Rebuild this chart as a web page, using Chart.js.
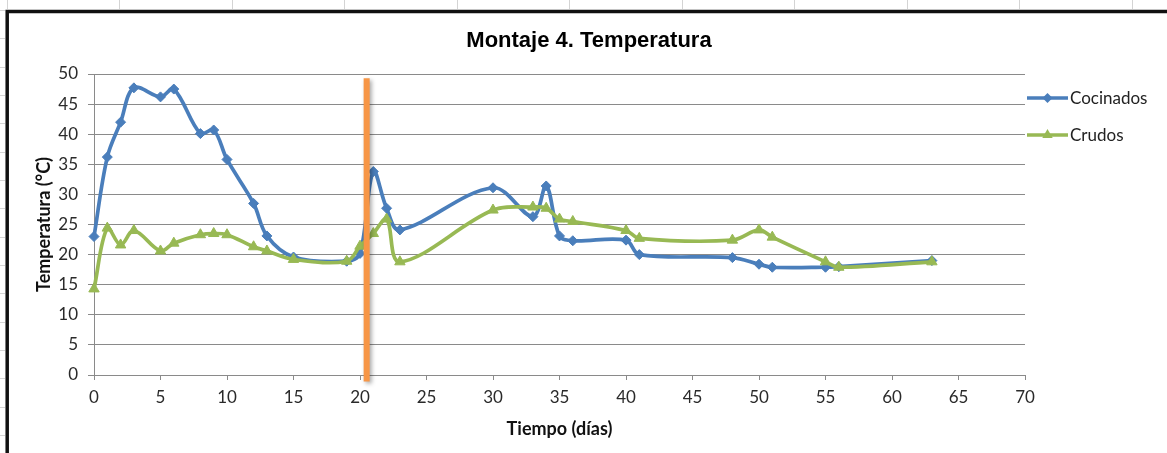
<!DOCTYPE html>
<html><head><meta charset="utf-8">
<script src="https://cdn.jsdelivr.net/npm/chart.js@4"></script>
<style>html,body{margin:0;padding:0;background:#fff;overflow:hidden}canvas{display:block}</style>
</head><body>
<canvas id="c" width="1167" height="453"></canvas>
<script>
// ---- data ----
const titleText = 'Montaje 4. Temperatura';
const xTitle = 'Tiempo (días)';
const yTitle = 'Temperatura (°C)';
const seriesNames = ['Cocinados', 'Crudos'];
const days = [0,1,2,3,5,6,8,9,10,12,13,15,19,20,21,22,23,30,33,34,35,36,40,41,48,50,51,55,56,63];
const cocinados = [23,36.2,42,47.7,46.2,47.5,40.1,40.7,35.8,28.5,23.1,19.6,18.9,20.2,33.8,27.7,24.1,31.1,26.3,31.4,23.1,22.3,22.4,20,19.5,18.4,17.9,17.9,18,19];
const crudos    = [14.3,24.4,21.6,24,20.6,21.9,23.3,23.5,23.3,21.3,20.6,19.2,18.9,21.4,23.5,25.9,18.8,27.4,27.9,27.7,25.9,25.5,24,22.7,22.4,24.1,22.9,18.8,17.9,18.8];
const markerDay = 20.5;
const markerTop = 49.3;
const markerBottom = -1.1;
const xRange = [0, 70], xStep = 5;
const yRange = [0, 50], yStep = 5;

const BLUE = '#4A7EBB', GREEN = '#98B954', ORANGE = '#F79646', GRID = '#8a8a8a';
const AXFONT = 'Lato, "Open Sans", sans-serif';

function pts(xs, ys){ return xs.map((x,i)=>({x:x, y:ys[i]})); }

const bgPlugin = {
  id: 'bg',
  beforeDraw(chart){
    const ctx = chart.ctx, W = chart.width, H = chart.height;
    ctx.save();
    ctx.fillStyle = '#fff'; ctx.fillRect(0,0,W,H);
    // faint spreadsheet cell lines outside the chart frame
    ctx.strokeStyle = '#d4d4d4'; ctx.lineWidth = 1;
    for (let x = 6.5; x < W; x += 112.5) { ctx.beginPath(); ctx.moveTo(Math.round(x)+0.5, 0); ctx.lineTo(Math.round(x)+0.5, 9); ctx.stroke(); }
    for (let y = 10; y < H; y += 28.33) { ctx.beginPath(); ctx.moveTo(0, Math.round(y)+0.5); ctx.lineTo(5, Math.round(y)+0.5); ctx.stroke(); }
    // black frame
    ctx.strokeStyle = '#111'; ctx.lineWidth = 3.5;
    ctx.beginPath(); ctx.moveTo(W+2, 11.5); ctx.lineTo(7.2, 11.5); ctx.lineTo(7.2, H+2); ctx.stroke();
    // chart title
    ctx.fillStyle = '#000'; ctx.font = 'bold 22px "Liberation Sans", Arial, sans-serif';
    ctx.textAlign = 'center'; ctx.textBaseline = 'middle';
    ctx.fillText(titleText, 589, 41);
    ctx.restore();
  }
};

const shadowPlugin = {
  id: 'shadow',
  beforeDatasetDraw(chart, args){
    if (args.index === 2) {
      const ctx = chart.ctx; ctx.save();
      ctx.shadowColor = 'rgba(0,0,0,0.35)'; ctx.shadowBlur = 4; ctx.shadowOffsetX = 2; ctx.shadowOffsetY = 2;
    }
  },
  afterDatasetDraw(chart, args){ if (args.index === 2) chart.ctx.restore(); }
};

function marker(ctx, style, x, y, r){
  ctx.beginPath();
  if (style === 'rectRot') { ctx.moveTo(x, y-r); ctx.lineTo(x+r, y); ctx.lineTo(x, y+r); ctx.lineTo(x-r, y); }
  else { const h = Math.sqrt(3)/2*r; ctx.moveTo(x, y-r); ctx.lineTo(x+h, y+r/2); ctx.lineTo(x-h, y+r/2); }
  ctx.closePath(); ctx.fill();
}

const legendPlugin = {
  id: 'customLegend',
  afterDraw(chart){
    const ctx = chart.ctx;
    const rows = [{y: 98, ds: chart.data.datasets[0]}, {y: 135, ds: chart.data.datasets[1]}];
    ctx.save();
    rows.forEach(r => {
      ctx.strokeStyle = r.ds.borderColor; ctx.lineWidth = 3.5;
      ctx.beginPath(); ctx.moveTo(1027, r.y); ctx.lineTo(1068, r.y); ctx.stroke();
      ctx.fillStyle = r.ds.borderColor;
      marker(ctx, r.ds.pointStyle, 1047.5, r.y, r.ds.pointRadius);
      ctx.fillStyle = '#222'; ctx.font = '17px ' + AXFONT; ctx.textBaseline = 'middle'; ctx.textAlign = 'left';
      ctx.fillText(r.ds.label, 1070, r.y + 1);
    });
    ctx.restore();
  }
};

new Chart(document.getElementById('c'), {
  type: 'line',
  data: {
    datasets: [
      { label: seriesNames[0], data: pts(days, cocinados), borderColor: BLUE, backgroundColor: BLUE,
        borderWidth: 3.7, pointStyle: 'rectRot', pointRadius: 5, pointBorderWidth: 1, pointBorderColor: BLUE,
        tension: 0.35, order: 2, clip: false },
      { label: seriesNames[1], data: pts(days, crudos), borderColor: GREEN, backgroundColor: GREEN,
        borderWidth: 3.7, pointStyle: 'triangle', pointRadius: 6, pointBorderWidth: 1, pointBorderColor: GREEN,
        tension: 0.35, order: 1, clip: false },
      { label: 'marker', data: [{x: markerDay, y: markerTop}, {x: markerDay, y: markerBottom}],
        borderColor: ORANGE, borderWidth: 6, pointRadius: 0, clip: false, order: 0, tension: 0 }
    ]
  },
  options: {
    responsive: false, animation: false, devicePixelRatio: 1,
    layout: { padding: { left: 10, right: 142, top: 74, bottom: 0 } },
    plugins: {
      legend: { display: false },
      tooltip: { enabled: false },
      title: { display: false }
    },
    scales: {
      x: { type: 'linear', min: xRange[0], max: xRange[1],
        ticks: { stepSize: xStep, color: '#2a2a2a', font: { family: AXFONT, size: 17 }, padding: 7, maxRotation: 0 },
        grid: { drawOnChartArea: false, drawTicks: true, tickLength: 5, color: GRID },
        border: { display: true, color: GRID, width: 1 },
        title: { display: true, text: xTitle, color: '#111', font: { family: AXFONT, size: 18, weight: 'bold' }, padding: { top: 3.8, bottom: 13.2 } } },
      y: { type: 'linear', min: yRange[0], max: yRange[1],
        afterFit(s){ s.width = 84; },
        ticks: { stepSize: yStep, color: '#2a2a2a', font: { family: AXFONT, size: 17 }, padding: 10 },
        grid: { color: GRID, drawTicks: true, tickLength: 6 },
        border: { display: true, color: GRID, width: 1 },
        title: { display: true, text: yTitle, color: '#111', font: { family: AXFONT, size: 18, weight: 'bold' }, padding: { top: 23, bottom: 0 } } }
    }
  },
  plugins: [bgPlugin, shadowPlugin, legendPlugin]
});
</script>
</body></html>
